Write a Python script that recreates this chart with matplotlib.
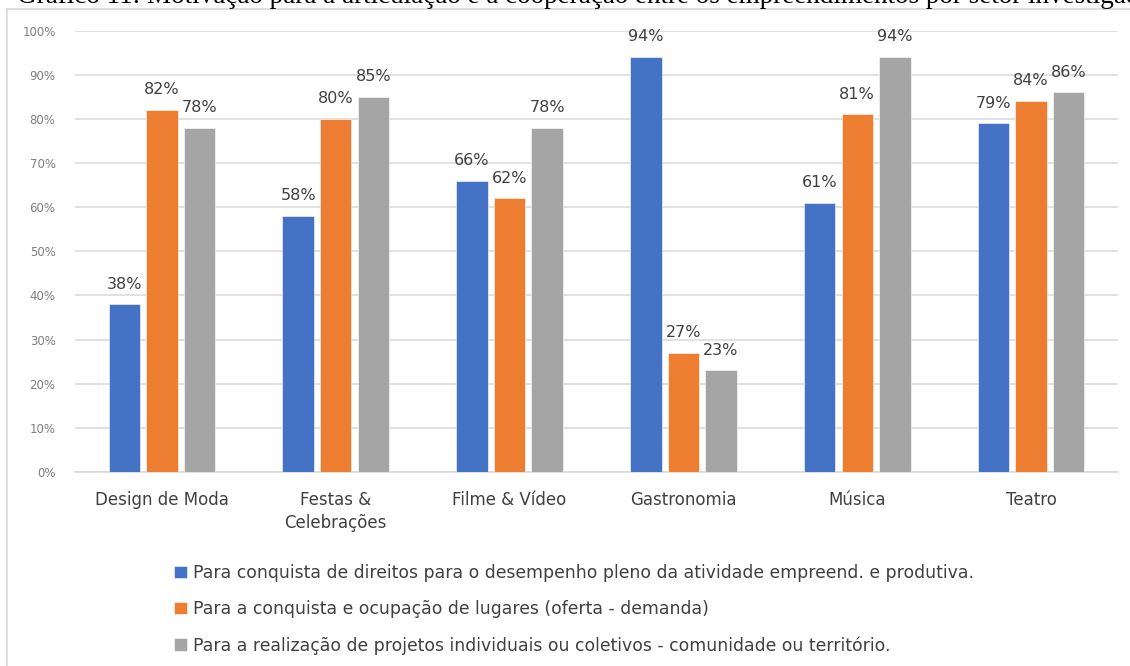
import matplotlib
matplotlib.use("Agg")
import matplotlib.pyplot as plt
from matplotlib.lines import Line2D
import numpy as np

setores = ["Design de Moda", "Festas &\nCelebrações", "Filme & Vídeo",
           "Gastronomia", "Música", "Teatro"]
direitos = [38, 58, 66, 94, 61, 79]
lugares = [82, 80, 62, 27, 81, 84]
projetos = [78, 85, 78, 23, 94, 86]

series_nomes = [
    "Para conquista de direitos para o desempenho pleno da atividade empreend. e produtiva.",
    "Para a conquista e ocupação de lugares (oferta - demanda)",
    "Para a realização de projetos individuais ou coletivos - comunidade ou território.",
]
cores = ["#4472C4", "#ED7D31", "#A5A5A5"]
titulo = ("Gráfico 11: Motivação para a articulação e a cooperação "
          "entre os empreendimentos por setor investigado")

W, H = 1130, 666
fig = plt.figure(figsize=(W / 100, H / 100), dpi=100)

# moldura da caixa do gráfico: só as bordas superior e esquerda aparecem
borda = dict(transform=fig.transFigure, color="#d9d9d9", linewidth=1.2)
fig.lines.append(Line2D([7 / W, 1.01], [(H - 9) / H] * 2, **borda))
fig.lines.append(Line2D([7 / W] * 2, [-0.01, (H - 9) / H], **borda))

fig.text(17 / W, (H - 3) / H, titulo, family="Liberation Serif",
         fontsize=19.5, color="black", ha="left", va="baseline")

ax = fig.add_axes([75 / W, (H - 472) / H, (1118 - 75) / W, (472 - 30.5) / H])

x = np.arange(len(setores))
largura = 0.181
passo = 0.216
for i, (vals, cor, nome) in enumerate(zip([direitos, lugares, projetos], cores, series_nomes)):
    pos = x + (i - 1) * passo
    ax.bar(pos, vals, width=largura, color=cor, label=nome, zorder=3,
           edgecolor="white", linewidth=0.4)
    for px, v in zip(pos, vals):
        ax.annotate(f"{v}%", xy=(px, v), xytext=(0, 11.3), textcoords="offset points",
                    ha="center", va="baseline", fontsize=11.5, color="#404040",
                    zorder=4)

ax.set_xlim(-0.5, len(setores) - 0.5)
ax.set_ylim(0, 100)
ax.set_yticks(np.arange(0, 101, 10))
ax.set_yticklabels([f"{v}%" for v in range(0, 101, 10)], fontsize=8.5, color="#7f7f7f")
ax.yaxis.grid(True, color="#d9d9d9", linewidth=1.1, zorder=0)
ax.tick_params(axis="y", length=0, pad=14)
ax.set_xticks(x)
ax.set_xticklabels(setores, fontsize=12, color="#404040", linespacing=1.3)
ax.tick_params(axis="x", length=0, pad=14)
for s in ["left", "right", "top"]:
    ax.spines[s].set_visible(False)
ax.spines["bottom"].set_color("#d9d9d9")
ax.spines["bottom"].set_linewidth(1.1)

leg = fig.legend(loc="upper left", bbox_to_anchor=(167 / W, (H - 557) / H),
                 frameon=False, handlelength=0.75, handleheight=0.75,
                 handletextpad=0.35, labelspacing=1.05, borderaxespad=0,
                 prop={"family": "DejaVu Sans", "size": 12.4})
for t in leg.get_texts():
    t.set_color("#404040")

fig.savefig("out.png", dpi=100, facecolor="white")
